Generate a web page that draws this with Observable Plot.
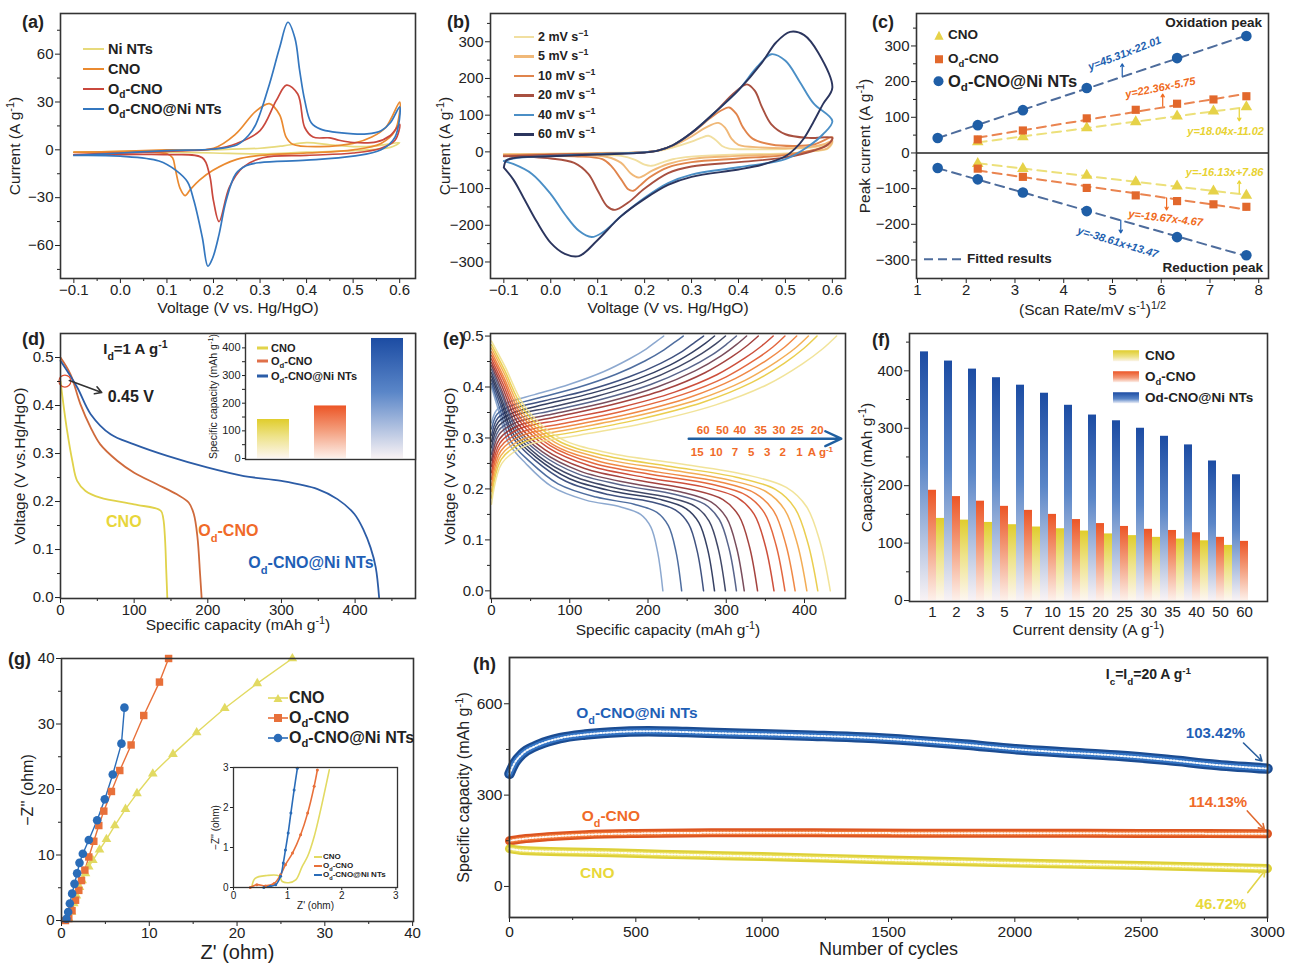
<!DOCTYPE html>
<html>
<head>
<meta charset="utf-8">
<script src="https://cdn.jsdelivr.net/npm/d3@7"></script>
<script src="https://cdn.jsdelivr.net/npm/@observablehq/plot@0.6"></script>
<style>
  html,body{margin:0;padding:0;background:#fff;}
  #fig{position:relative;width:1293px;height:964px;overflow:hidden;background:#fff;font-family:"Liberation Sans",Arial,Helvetica,sans-serif;color:#222;}
  .ov{position:absolute;font-weight:bold;line-height:1;white-space:nowrap;}
  .mid{transform:translateY(-50%);}
  .row{display:flex;align-items:center;}
  .sw{display:inline-block;flex:none;}
  sub,sup{font-size:0.7em;line-height:0;}
  .plbl{position:absolute;font-weight:bold;font-size:18px;line-height:1;}
</style>
</head>
<body>
<div id="fig"></div>
<script>
// ======================= DATA =======================
// (a) CV loops at one scan rate: [potential (V vs Hg/HgO), current (A/g)] in sweep order
const aNames = ["Ni NTs", "CNO", "O_{d}-CNO", "O_{d}-CNO@Ni NTs"];
const aNiNTs = [[-0.1,-1.5],[0.0,-1],[0.1,-0.5],[0.2,0],[0.3,1],[0.35,2.5],[0.4,4.5],[0.45,3.2],[0.5,2],[0.55,2.5],[0.6,4.5],[0.58,1.5],[0.5,-0.5],[0.4,-1.5],[0.3,-2.5],[0.2,-2],[0.1,-1.5],[0.0,-1.5],[-0.1,-1.5]];
const aCNO = [[-0.1,-1.5],[0.0,-1],[0.1,0],[0.2,1],[0.248,10],[0.29,24],[0.32,29],[0.342,22],[0.356,8],[0.37,3.5],[0.43,2],[0.5,4],[0.54,8],[0.57,14],[0.6,30],[0.59,12],[0.56,4],[0.5,0],[0.4,-2],[0.3,-3.5],[0.25,-6],[0.198,-13],[0.17,-19],[0.15,-25],[0.139,-28.7],[0.128,-24],[0.118,-12],[0.112,-5],[0.1,-2.5],[0.0,-1.5],[-0.1,-1.5]];
const aOdCNO = [[-0.1,-3],[0.0,-2],[0.1,-1],[0.2,0.5],[0.25,4],[0.3,12],[0.335,31],[0.357,40.6],[0.381,35],[0.396,14],[0.414,8],[0.45,7.5],[0.47,6],[0.5,4.6],[0.55,5],[0.58,9],[0.6,16],[0.59,6],[0.56,1],[0.5,-2],[0.4,-3.5],[0.306,-5],[0.263,-11],[0.234,-23.5],[0.212,-45],[0.2,-32],[0.191,-15],[0.176,-5],[0.1,-3],[0.0,-3],[-0.1,-3]];
const aOdCNONi = [[-0.1,-3.5],[0.0,-2],[0.1,-0.5],[0.2,0.5],[0.25,3],[0.275,9],[0.291,16],[0.32,41],[0.342,64],[0.36,80],[0.375,70],[0.385,50],[0.396,31],[0.41,17],[0.43,13],[0.5,10],[0.53,10],[0.56,12],[0.58,17],[0.6,27],[0.59,8],[0.56,0],[0.5,-4],[0.4,-6.5],[0.3,-8],[0.27,-10],[0.248,-15],[0.227,-32],[0.212,-53],[0.198,-68],[0.188,-73],[0.176,-55],[0.158,-32],[0.144,-20],[0.12,-13],[0.083,-7],[0.0,-4],[-0.1,-3.5]];

// (b) CV loops of O_d-CNO@Ni NTs at several scan rates (mV/s)
const bRates = ["2", "5", "10", "20", "40", "60"];
const bCV2 = [[-0.1,-6],[0.0,-5],[0.1,-3],[0.2,-1],[0.23,3],[0.26,12],[0.3,28],[0.32,38],[0.336,44],[0.35,34],[0.365,16],[0.38,9],[0.42,7],[0.5,8],[0.55,11],[0.58,17],[0.6,25],[0.59,9],[0.56,2],[0.5,-4],[0.4,-7],[0.3,-13],[0.26,-20],[0.235,-30],[0.215,-38],[0.2,-35],[0.18,-22],[0.15,-11],[0.1,-8],[0.0,-7],[-0.1,-6]];
const bCV5 = [[-0.1,-7],[0.0,-6],[0.1,-4],[0.2,-1],[0.23,4],[0.26,16],[0.3,42],[0.33,66],[0.357,79],[0.372,65],[0.385,36],[0.4,19],[0.45,12],[0.5,10],[0.55,13],[0.58,20],[0.6,30],[0.59,10],[0.56,3],[0.5,-6],[0.4,-11],[0.3,-19],[0.25,-33],[0.215,-52],[0.195,-67],[0.187,-70],[0.17,-58],[0.15,-30],[0.12,-14],[0.05,-9],[-0.1,-7]];
const bCV10 = [[-0.1,-9],[0.0,-7],[0.1,-5],[0.2,-1],[0.23,4],[0.26,18],[0.3,50],[0.34,92],[0.365,114],[0.38,121],[0.395,104],[0.41,66],[0.43,36],[0.47,20],[0.52,16],[0.56,20],[0.6,40],[0.59,18],[0.56,5],[0.5,-9],[0.4,-18],[0.3,-28],[0.25,-42],[0.21,-70],[0.19,-92],[0.176,-106],[0.165,-102],[0.15,-75],[0.13,-40],[0.11,-20],[0.05,-12],[-0.1,-9]];
const bCV20 = [[-0.1,-12],[0.0,-8],[0.1,-5],[0.2,-1],[0.23,4],[0.26,18],[0.3,52],[0.35,108],[0.39,160],[0.418,184],[0.435,166],[0.45,122],[0.47,75],[0.5,48],[0.55,38],[0.6,38],[0.59,20],[0.56,3],[0.5,-15],[0.4,-28],[0.3,-40],[0.25,-58],[0.2,-100],[0.165,-138],[0.137,-158],[0.12,-148],[0.1,-105],[0.08,-60],[0.05,-30],[0.0,-18],[-0.1,-12]];
const bCV40 = [[-0.1,-25],[-0.08,-18],[0.0,-11],[0.1,-6],[0.2,-1],[0.23,4],[0.26,18],[0.3,52],[0.35,108],[0.4,168],[0.44,232],[0.47,266],[0.5,248],[0.53,192],[0.56,132],[0.6,84],[0.58,48],[0.55,16],[0.5,-20],[0.4,-42],[0.3,-62],[0.25,-85],[0.2,-125],[0.15,-175],[0.11,-220],[0.087,-232],[0.06,-215],[0.03,-170],[0.0,-115],[-0.04,-60],[-0.08,-33],[-0.1,-25]];
const bCV60 = [[-0.1,-43],[-0.095,-24],[-0.08,-17],[0.0,-12],[0.1,-7],[0.2,-2],[0.23,4],[0.26,18],[0.3,52],[0.35,108],[0.4,168],[0.45,243],[0.48,298],[0.51,327],[0.54,318],[0.57,270],[0.6,175],[0.58,130],[0.56,82],[0.54,38],[0.52,8],[0.5,-12],[0.45,-35],[0.4,-48],[0.3,-68],[0.25,-90],[0.2,-128],[0.15,-175],[0.1,-240],[0.06,-284],[0.03,-278],[0.0,-248],[-0.03,-190],[-0.06,-120],[-0.08,-75],[-0.1,-43]];

// (c) peak currents vs sqrt(scan rate)
const cSqrtRate = [1.414, 2.236, 3.162, 4.472, 5.477, 6.325, 7.071, 7.746];
const cOxCNO  = [null, 31, 45, 70, 87, 103, 117, 129];
const cRedCNO = [null, -30, -44, -63, -81, -93, -107, -119];
const cOxOd   = [null, 38, 63, 97, 121, 138, 150, 159];
const cRedOd  = [null, -44, -67, -98, -119, -135, -144, -151];
const cOxNi   = [42, 78, 120, 182, null, 266, null, 328];
const cRedNi  = [-42, -74, -111, -163, null, -236, null, -287];
const cFitText = ["y=18.04x-11.02", "y=-16.13x+7.86", "y=22.36x-5.75", "y=-19.67x-4.67", "y=45.31x-22.01", "y=-38.61x+13.47"];

// (d) discharge curves at 1 A/g: [capacity mAh/g, voltage V]
const dCNO = [[0,0.45],[4.5,0.396],[9,0.347],[16,0.285],[22.6,0.243],[34,0.222],[54,0.208],[100,0.194],[136,0.181],[139.5,0.165],[142,0.12],[143.5,0.06],[145,0]];
const dOdCNO = [[0,0.5],[13.6,0.465],[27,0.403],[41,0.354],[54,0.319],[77,0.285],[100,0.26],[131,0.236],[158,0.215],[174,0.198],[181,0.174],[186,0.125],[189.5,0.049],[191.6,0]];
const dOdCNONi = [[0,0.493],[22.6,0.438],[41,0.382],[68,0.34],[100,0.319],[145,0.295],[199,0.271],[249,0.253],[300,0.243],[349,0.226],[376,0.205],[399,0.174],[412,0.139],[421,0.104],[428,0.063],[432.6,0]];
const dBarNames = ["CNO", "O_{d}-CNO", "O_{d}-CNO@Ni NTs"];
const dBarCap = [141, 190, 434];

// (e) GCD curves of O_d-CNO@Ni NTs at 14 current densities (A/g)
const eRates = [60, 50, 40, 35, 30, 25, 20, 15, 10, 7, 5, 3, 2, 1];
const eDisCap = [219, 243, 271, 285, 299, 313, 323, 340, 361, 375, 388, 403, 417, 433];
const eChgCap = [220, 245, 271, 285, 299, 313, 326, 341, 360, 375, 390, 405, 416, 441];
const eDisFrac = [0, 0.04, 0.1, 0.2, 0.35, 0.55, 0.75, 0.87, 0.93, 0.97, 1];
const eDisV = [
 [0.400,0.355,0.290,0.250,0.205,0.178,0.165,0.150,0.125,0.075,0],
 [0.407,0.362,0.295,0.254,0.210,0.184,0.170,0.154,0.128,0.077,0],
 [0.414,0.368,0.301,0.258,0.215,0.189,0.175,0.158,0.131,0.078,0],
 [0.421,0.375,0.306,0.262,0.220,0.195,0.180,0.162,0.134,0.080,0],
 [0.428,0.381,0.312,0.265,0.225,0.200,0.184,0.166,0.137,0.081,0],
 [0.435,0.388,0.317,0.269,0.230,0.206,0.189,0.170,0.140,0.083,0],
 [0.442,0.394,0.322,0.273,0.235,0.211,0.194,0.174,0.143,0.084,0],
 [0.448,0.401,0.328,0.277,0.240,0.217,0.199,0.179,0.147,0.086,0],
 [0.455,0.407,0.333,0.281,0.245,0.222,0.204,0.183,0.150,0.087,0],
 [0.462,0.414,0.338,0.285,0.250,0.228,0.209,0.187,0.153,0.089,0],
 [0.469,0.420,0.344,0.288,0.255,0.233,0.214,0.191,0.156,0.090,0],
 [0.476,0.427,0.349,0.292,0.260,0.239,0.218,0.195,0.159,0.092,0],
 [0.483,0.433,0.355,0.296,0.265,0.244,0.223,0.199,0.162,0.093,0],
 [0.490,0.440,0.360,0.300,0.270,0.250,0.228,0.203,0.165,0.095,0]
];
const eChgFrac = [0, 0.03, 0.1, 0.25, 0.45, 0.65, 0.8, 0.9, 0.96, 1];
const eChgV = [
 [0.330,0.355,0.370,0.385,0.405,0.430,0.455,0.475,0.490,0.5],
 [0.318,0.347,0.363,0.379,0.399,0.425,0.451,0.473,0.489,0.5],
 [0.305,0.339,0.357,0.373,0.393,0.420,0.447,0.470,0.488,0.5],
 [0.293,0.331,0.350,0.367,0.388,0.415,0.443,0.468,0.486,0.5],
 [0.281,0.323,0.344,0.360,0.382,0.410,0.440,0.466,0.485,0.5],
 [0.268,0.315,0.337,0.354,0.376,0.405,0.436,0.463,0.484,0.5],
 [0.256,0.307,0.331,0.348,0.370,0.400,0.432,0.461,0.483,0.5],
 [0.244,0.298,0.324,0.342,0.365,0.395,0.428,0.459,0.482,0.5],
 [0.232,0.290,0.318,0.336,0.359,0.390,0.424,0.457,0.481,0.5],
 [0.219,0.282,0.311,0.329,0.353,0.385,0.420,0.454,0.479,0.5],
 [0.207,0.274,0.305,0.323,0.347,0.380,0.417,0.452,0.478,0.5],
 [0.195,0.266,0.298,0.317,0.342,0.375,0.413,0.450,0.477,0.5],
 [0.182,0.258,0.292,0.311,0.336,0.370,0.409,0.447,0.476,0.5],
 [0.170,0.250,0.285,0.305,0.330,0.365,0.405,0.445,0.475,0.5]
];
const eTopLabels = ["60", "50", "40", "35", "30", "25", "20"];
const eBottomLabels = ["15", "10", "7", "5", "3", "2", "1", "A g^{-1}"];

// (f) rate capability
const fDensity = ["1","2","3","5","7","10","15","20","25","30","35","40","50","60"];
const fOdCNONi = [433, 417, 403, 388, 375, 361, 340, 323, 313, 300, 286, 271, 243, 219];
const fOdCNO   = [192, 181, 173, 164, 157, 150, 141, 134, 129, 124, 122, 118, 110, 103];
const fCNO     = [143, 140, 136, 132, 128, 125, 121, 116, 113, 110, 107, 104, 96, null];

// (g) Nyquist plots: [Z' ohm, -Z'' ohm]
const gCNO = [[0.83,0.26],[1.14,1.3],[1.4,2.6],[1.7,3.8],[2.05,5.1],[2.35,6.1],[2.73,7.2],[3.1,8.2],[3.57,9.2],[4.33,10.8],[5.12,12.4],[6.07,14.5],[7.29,17.0],[8.6,19.4],[10.4,22.4],[12.7,25.4],[15.4,28.7],[18.6,32.4],[22.3,36.2],[26.3,40.0]];
const gOdCNO = [[0.45,0],[0.83,0.3],[1.2,1.5],[1.6,3.1],[1.97,4.6],[2.28,6.1],[2.66,7.7],[3.11,9.7],[3.68,12.1],[4.25,14.5],[4.82,16.7],[5.69,19.7],[6.64,22.9],[7.93,26.8],[9.37,31.3],[11.16,36.4],[12.2,40.0]];
const gOdCNONi = [[0.57,0.26],[0.76,1.3],[0.95,2.6],[1.21,4.1],[1.48,5.6],[1.78,7.2],[2.05,8.8],[2.43,10.2],[3.11,12.3],[4.06,15.3],[4.93,18.5],[5.84,22.3],[6.83,27.0],[7.17,32.5]];
const giCNO = [[0.34,0.03],[0.4,0.23],[0.62,0.3],[0.84,0.29],[0.9,0.15],[1.02,0.12],[1.15,0.19],[1.27,0.53],[1.37,0.78],[1.49,1.27],[1.61,1.94],[1.77,2.94]];
const giOdCNO = [[0.31,0],[0.43,0.07],[0.59,0.04],[0.75,0.1],[0.87,0.32],[0.96,0.57],[1.09,0.86],[1.24,1.32],[1.37,1.86],[1.49,2.53],[1.55,2.94]];
const giOdCNONi = [[0.56,0],[0.68,0.03],[0.78,0.07],[0.87,0.28],[0.92,0.61],[0.96,0.94],[1.01,1.36],[1.06,1.86],[1.12,2.44],[1.18,2.98]];

// (h) cycling stability at 20 A/g: [cycle, capacity mAh/g]
const hOdCNONi = [[0,370],[20,405],[50,435],[100,460],[150,476],[200,487],[300,499],[400,506],[550,510],[700,507],[850,503],[1000,500],[1200,495],[1400,489],[1600,479],[1800,466],[2000,451],[2200,440],[2400,430],[2600,416],[2800,399],[3000,387]];
const hOdCNO = [[0,150],[50,156],[150,163],[300,170],[500,174],[800,176],[1200,176],[1600,175],[2000,175],[2500,174],[3000,173]];
const hCNO = [[0,124],[50,118],[200,114],[400,111],[600,106],[800,102],[1000,98],[1500,87],[2000,77],[2500,69],[3000,59]];
const hRetention = ["103.42%", "114.13%", "46.72%"];

// ======================= HELPERS =======================
const FONT = '"Liberation Sans", Arial, Helvetica, sans-serif';
const INK = "#222";
const fig = document.getElementById("fig");
const style = (fs = 15) => ({fontFamily: FONT, fontSize: fs + "px", color: INK, background: "transparent", overflow: "visible"});
const X = d => d[0], Y = d => d[1];
const f1 = d3.format(".1f");
const fInt = d3.format("d");

document.body.insertAdjacentHTML("afterbegin", `<svg width="0" height="0" style="position:absolute"><defs>
<linearGradient id="gBlue" x1="0" y1="0" x2="0" y2="1"><stop offset="0" stop-color="#1c4ca3"/><stop offset="0.45" stop-color="#5a86c8"/><stop offset="1" stop-color="#f8f2f4"/></linearGradient>
<linearGradient id="gOrange" x1="0" y1="0" x2="0" y2="1"><stop offset="0" stop-color="#ec5526"/><stop offset="0.45" stop-color="#f39a78"/><stop offset="1" stop-color="#fdf0ea"/></linearGradient>
<linearGradient id="gYellow" x1="0" y1="0" x2="0" y2="1"><stop offset="0" stop-color="#e0cd2c"/><stop offset="0.45" stop-color="#eee38a"/><stop offset="1" stop-color="#fdf6f0"/></linearGradient>
</defs></svg>`);

function richify(root) {
  const NS = "http://www.w3.org/2000/svg";
  const fix = t => {
    const s = t.textContent;
    if (!/[_^]\{/.test(s)) return;
    t.textContent = "";
    const re = /([_^])\{([^}]*)\}/g; let last = 0, m;
    while ((m = re.exec(s))) {
      if (m.index > last) t.appendChild(document.createTextNode(s.slice(last, m.index)));
      const ts = document.createElementNS(NS, "tspan");
      ts.setAttribute("baseline-shift", m[1] === "_" ? "sub" : "super");
      ts.setAttribute("font-size", "0.7em");
      ts.textContent = m[2];
      t.appendChild(ts);
      last = re.lastIndex;
    }
    if (last < s.length) t.appendChild(document.createTextNode(s.slice(last)));
  };
  root.querySelectorAll("text").forEach(t => {
    const kids = t.querySelectorAll("tspan");
    if (kids.length) kids.forEach(fix); else fix(t);
  });
}
function place(el, left, top) {
  el.style.position = "absolute";
  el.style.left = left + "px";
  el.style.top = top + "px";
  richify(el);
  fig.appendChild(el);
}
function axes(o) {
  const m = [];
  if (o.xMajor) m.push(Plot.axisX({ticks: o.xMajor, tickSize: o.xSize ?? 5, tickPadding: o.xPad ?? 1, tickFormat: o.xFmt, label: null}));
  if (o.xMinor) m.push(Plot.axisX({ticks: o.xMinor, tickSize: 3, tickFormat: () => "", label: null}));
  if (o.yMajor) m.push(Plot.axisY({ticks: o.yMajor, tickSize: o.ySize ?? 5, tickPadding: o.yPad ?? 2, tickFormat: o.yFmt, label: null}));
  if (o.yMinor) m.push(Plot.axisY({ticks: o.yMinor, tickSize: 3, tickFormat: () => "", label: null}));
  return m;
}
const xLabel = (t, dy, fs = 15.5) => Plot.text([t], {text: d => d, frameAnchor: "bottom", dy, fontSize: fs, textAnchor: "middle", lineAnchor: "middle"});
const yLabel = (t, dx, fs = 15.5) => Plot.text([t], {text: d => d, frameAnchor: "left", dx, rotate: -90, fontSize: fs, textAnchor: "middle", lineAnchor: "middle"});
const frame = (w = 1.6) => Plot.frame({stroke: "#333", strokeWidth: w});

// ======================= (a) =======================
{
  const cols = ["#e7da7c", "#ea8a30", "#c9483d", "#3477bf"];
  const series = [aNiNTs, aCNO, aOdCNO, aOdCNONi];
  place(Plot.plot({
    width: 430, height: 320, marginLeft: 60, marginRight: 15, marginTop: 13, marginBottom: 42,
    style: style(15),
    x: {domain: [-0.1287, 0.634]}, y: {domain: [-80.7, 85.5]},
    marks: [
      ...series.map((s, i) => Plot.line(s, {x: X, y: Y, stroke: cols[i], strokeWidth: 1.7, curve: "catmull-rom"})),
      ...axes({xMajor: [-0.1,0,0.1,0.2,0.3,0.4,0.5,0.6], xFmt: f1, xMinor: [-0.05,0.05,0.15,0.25,0.35,0.45,0.55],
               yMajor: [-60,-30,0,30,60], yMinor: [-75,-45,-15,15,45,75]}),
      xLabel("Voltage (V vs. Hg/HgO)", 30),
      yLabel("Current (A g^{-1})", -45),
      frame()
    ]
  }), 0, 0);
}

// ======================= (b) =======================
const bCols = ["#f1dfa0", "#f0b878", "#e0844c", "#a85040", "#4b8fc6", "#2b355e"];
{
  const series = [bCV2, bCV5, bCV10, bCV20, bCV40, bCV60];
  place(Plot.plot({
    width: 420, height: 320, marginLeft: 60, marginRight: 5, marginTop: 13, marginBottom: 42,
    style: style(15),
    x: {domain: [-0.1284, 0.628]}, y: {domain: [-345, 377]},
    marks: [
      ...series.map((s, i) => Plot.line(s, {x: X, y: Y, stroke: bCols[i], strokeWidth: 1.9, curve: "catmull-rom"})),
      ...axes({xMajor: [-0.1,0,0.1,0.2,0.3,0.4,0.5,0.6], xFmt: f1, xMinor: [-0.05,0.05,0.15,0.25,0.35,0.45,0.55],
               yMajor: [-300,-200,-100,0,100,200,300], yMinor: [-250,-150,-50,50,150,250,350]}),
      xLabel("Voltage (V vs. Hg/HgO)", 30),
      yLabel("Current (A g^{-1})", -45),
      frame()
    ]
  }), 430, 0);
}

// ======================= (c) =======================
{
  const pts = arr => cSqrtRate.map((x, i) => ({x, y: arr[i]})).filter(d => d.y != null);
  const S = [
    {ox: cOxCNO, red: cRedCNO, symbol: "triangle", fill: "#e6d248", dash: "#ece07a", r: 4.3},
    {ox: cOxOd, red: cRedOd, symbol: "square", fill: "#e2682c", dash: "#ea8450", r: 4.6},
    {ox: cOxNi, red: cRedNi, symbol: "circle", fill: "#1f5ea6", dash: "#4d6c9c", r: 5.3}
  ];
  const fitMarks = [], dotMarks = [];
  for (const s of S) for (const arr of [s.ox, s.red]) {
    fitMarks.push(Plot.linearRegressionY(pts(arr), {x: "x", y: "y", stroke: s.dash, strokeWidth: 2, strokeDasharray: "9,6", ci: 0}));
    dotMarks.push(Plot.dot(pts(arr), {x: "x", y: "y", symbol: s.symbol, fill: s.fill, r: s.r}));
  }
  const Y_ = "#e8d232", O_ = "#f06a20", B_ = "#1e5fb0";
  const eq = [
    {t: cFitText[4], x: 5.25, y: 279, r: -21, c: B_},
    {t: cFitText[2], x: 5.98, y: 183, r: -11, c: O_},
    {t: cFitText[0], x: 7.32, y: 59, r: 0, c: Y_},
    {t: cFitText[1], x: 7.3, y: -55, r: 0, c: Y_},
    {t: cFitText[3], x: 6.09, y: -183, r: 7, c: O_},
    {t: cFitText[5], x: 5.11, y: -251, r: 17, c: B_}
  ];
  const arrows = [
    {x1: 5.2, y1: 216, x2: 5.2, y2: 250, c: B_},
    {x1: 6.03, y1: 131, x2: 6.03, y2: 165, c: O_},
    {x1: 7.6, y1: 124, x2: 7.6, y2: 90, c: Y_},
    {x1: 7.6, y1: -112, x2: 7.6, y2: -78, c: Y_},
    {x1: 6.11, y1: -126, x2: 6.11, y2: -160, c: O_},
    {x1: 5.17, y1: -188, x2: 5.17, y2: -224, c: B_}
  ];
  place(Plot.plot({
    width: 443, height: 320, marginLeft: 66, marginRight: 25, marginTop: 13, marginBottom: 42,
    style: style(15),
    x: {domain: [0.98, 8.2]}, y: {domain: [-352, 391]},
    marks: [
      Plot.ruleY([0], {stroke: "#222", strokeWidth: 1.6}),
      ...fitMarks, ...dotMarks,
      Plot.arrow(arrows, {x1: "x1", y1: "y1", x2: "x2", y2: "y2", stroke: "c", strokeWidth: 1.2, headLength: 4}),
      Plot.text(eq, {x: "x", y: "y", text: "t", rotate: "r", fill: "c", fontSize: 11, fontWeight: "bold", fontStyle: "italic"}),
      ...axes({xMajor: [1,2,3,4,5,6,7,8], xMinor: [1.5,2.5,3.5,4.5,5.5,6.5,7.5],
               yMajor: [-300,-200,-100,0,100,200,300], yMinor: [-250,-150,-50,50,150,250,350]}),
      xLabel("(Scan Rate/mV s^{-1})^{1/2}", 32),
      yLabel("Peak current (A g^{-1})", -51),
      frame()
    ]
  }), 850, 0);
}

// ======================= (d) =======================
{
  place(Plot.plot({
    width: 430, height: 320, marginLeft: 60, marginRight: 15, marginTop: 13, marginBottom: 42,
    style: style(15),
    x: {domain: [0, 482]}, y: {domain: [-0.002, 0.55]},
    marks: [
      Plot.line(dCNO, {x: X, y: Y, stroke: "#e0d24a", strokeWidth: 1.8, curve: "catmull-rom"}),
      Plot.line(dOdCNO, {x: X, y: Y, stroke: "#cf6a3c", strokeWidth: 1.8, curve: "catmull-rom"}),
      Plot.line(dOdCNONi, {x: X, y: Y, stroke: "#2c5ca6", strokeWidth: 1.8, curve: "catmull-rom"}),
      Plot.dot([[6, 0.451]], {x: X, y: Y, r: 6, stroke: "#e05030", strokeWidth: 1.2, fill: "none"}),
      Plot.arrow([[12, 0.452, 56, 0.427]], {x1: d => d[0], y1: d => d[1], x2: d => d[2], y2: d => d[3], stroke: "#333", strokeWidth: 1.6, headLength: 7}),
      Plot.text(["0.45 V"], {x: 64, y: 0.419, text: d => d, textAnchor: "start", fontWeight: "bold", fontSize: 16}),
      Plot.text(["I_{d}=1 A g^{-1}"], {x: 58, y: 0.517, text: d => d, textAnchor: "start", fontWeight: "bold", fontSize: 15}),
      Plot.text(["CNO"], {x: 86, y: 0.158, text: d => d, fill: "#e8d63a", fontWeight: "bold", fontSize: 16}),
      Plot.text(["O_{d}-CNO"], {x: 187, y: 0.139, text: d => d, textAnchor: "start", fill: "#f06a28", fontWeight: "bold", fontSize: 16}),
      Plot.text(["O_{d}-CNO@Ni NTs"], {x: 255, y: 0.0726, text: d => d, textAnchor: "start", fill: "#1f5fb6", fontWeight: "bold", fontSize: 16}),
      ...axes({xMajor: [0,100,200,300,400], xMinor: [50,150,250,350,450],
               yMajor: [0,0.1,0.2,0.3,0.4,0.5], yFmt: f1, yMinor: [0.05,0.15,0.25,0.35,0.45]}),
      xLabel("Specific capacity (mAh g^{-1})", 27),
      yLabel("Voltage (V vs.Hg/HgO)", -40),
      frame()
    ]
  }), 0, 320);

  // inset bar chart
  const grads = ["url(#gYellow)", "url(#gOrange)", "url(#gBlue)"];
  place(Plot.plot({
    width: 222, height: 130, marginLeft: 50, marginRight: 2, marginTop: 2, marginBottom: 2,
    style: style(11),
    x: {type: "band", domain: dBarNames, paddingInner: 0.44, paddingOuter: 0.21, axis: null},
    y: {domain: [-3.6, 452]},
    marks: [
      Plot.frame({fill: "white"}),
      ...dBarNames.map((n, i) => Plot.barY([{n, v: dBarCap[i]}], {x: "n", y: "v", fill: grads[i]})),
      ...axes({yMajor: [0,100,200,300,400], ySize: 3, yPad: 2, yMinor: [50,150,250,350]}),
      yLabel("Specific capacity (mAh g^{-1})", -32, 10.5),
      frame(1.4)
    ]
  }), 195, 331);
}

// ======================= (e) =======================
{
  const eCols = ["#809fca","#3b5d95","#2b3f72","#1f2b52","#2c3456","#46537e","#6a3a4a","#9a2f2a","#c83c26","#e0562a","#ee7c32","#f2a442","#e8c93c","#efe08e"];
  const lines = [];
  eRates.forEach((r, i) => {
    lines.push(Plot.line(eDisFrac.map((f, j) => [f * eDisCap[i], eDisV[i][j]]), {x: X, y: Y, stroke: eCols[i], strokeWidth: 1.5, strokeOpacity: 0.9, curve: "catmull-rom"}));
    lines.push(Plot.line(eChgFrac.map((f, j) => [f * eChgCap[i], eChgV[i][j]]), {x: X, y: Y, stroke: eCols[i], strokeWidth: 1.5, strokeOpacity: 0.9, curve: "catmull-rom"}));
  });
  const topX = [270.5, 295.2, 317.4, 343.8, 367.3, 390.6, 416.2];
  const botX = [262.8, 287.1, 311, 331.8, 352.3, 372.3, 393.6, 420.4];
  place(Plot.plot({
    width: 420, height: 320, marginLeft: 60, marginRight: 5, marginTop: 13, marginBottom: 42,
    style: style(15),
    x: {domain: [-1.3, 452.4]}, y: {domain: [-0.015, 0.505]},
    marks: [
      ...lines,
      Plot.arrow([[252, 0.2986, 447, 0.2986]], {x1: d => d[0], y1: d => d[1], x2: d => d[2], y2: d => d[3], stroke: "#1f5fa0", strokeWidth: 2.4, headLength: 11, headAngle: 50}),
      Plot.text(eTopLabels, {x: (d, i) => topX[i], y: 0.316, text: d => d, fill: "#f06a28", fontWeight: "bold", fontSize: 11.5}),
      Plot.text(eBottomLabels, {x: (d, i) => botX[i], y: 0.272, text: d => d, fill: "#f06a28", fontWeight: "bold", fontSize: 11.5}),
      ...axes({xMajor: [0,100,200,300,400], xMinor: [50,150,250,350],
               yMajor: [0,0.1,0.2,0.3,0.4,0.5], yFmt: f1, yMinor: [0.05,0.15,0.25,0.35,0.45]}),
      xLabel("Specific capacity (mAh g^{-1})", 32),
      yLabel("Voltage (V vs.Hg/HgO)", -40),
      frame()
    ]
  }), 430, 320);
}

// ======================= (f) =======================
{
  const keys = fDensity.flatMap(d => [d + "|a", d + "|b", d + "|c"]);
  const rows = (arr, s) => fDensity.map((d, i) => ({k: d + "|" + s, v: arr[i]})).filter(d => d.v != null);
  place(Plot.plot({
    width: 443, height: 320, marginLeft: 59, marginRight: 26, marginTop: 13, marginBottom: 39,
    style: style(15),
    x: {type: "band", domain: keys, paddingInner: 0.06, paddingOuter: 0.15},
    y: {domain: [-1.7, 465]},
    marks: [
      Plot.barY(rows(fOdCNONi, "a"), {x: "k", y: "v", fill: "url(#gBlue)"}),
      Plot.barY(rows(fOdCNO, "b"), {x: "k", y: "v", fill: "url(#gOrange)"}),
      Plot.barY(rows(fCNO, "c"), {x: "k", y: "v", fill: "url(#gYellow)"}),
      Plot.axisX({ticks: fDensity.map(d => d + "|b"), tickSize: 0, tickPadding: 5, tickFormat: k => k.split("|")[0], label: null}),
      ...axes({yMajor: [0,100,200,300,400], yMinor: [50,150,250,350,450]}),
      xLabel("Current density (A g^{-1})", 29),
      yLabel("Capacity (mAh g^{-1})", -42),
      frame()
    ]
  }), 850, 320);
}

// ======================= (g) =======================
const gCols = ["#e2da62", "#e8703a", "#2a6cb8"];
{
  place(Plot.plot({
    width: 430, height: 324, marginLeft: 61, marginRight: 17, marginTop: 18, marginBottom: 43,
    style: style(15),
    x: {domain: [0, 40.1]}, y: {domain: [-0.15, 40]},
    marks: [
      Plot.line(gCNO, {x: X, y: Y, stroke: gCols[0], strokeWidth: 1.4, clip: true}),
      Plot.line(gOdCNO, {x: X, y: Y, stroke: gCols[1], strokeWidth: 1.4, clip: true}),
      Plot.line(gOdCNONi, {x: X, y: Y, stroke: gCols[2], strokeWidth: 1.4, clip: true}),
      Plot.dot(gCNO, {x: X, y: Y, symbol: "triangle", fill: gCols[0], r: 3.6}),
      Plot.dot(gOdCNO, {x: X, y: Y, symbol: "square", fill: gCols[1], r: 4.2}),
      Plot.dot(gOdCNONi, {x: X, y: Y, symbol: "circle", fill: gCols[2], r: 4.3}),
      ...axes({xMajor: [0,10,20,30,40], xMinor: [5,15,25,35], yMajor: [0,10,20,30,40], yMinor: [5,15,25,35]}),
      xLabel("Z' (ohm)", 31, 20),
      yLabel("\u2212Z'' (ohm)", -34, 16),
      frame()
    ]
  }), 0, 640);

  place(Plot.plot({
    width: 210, height: 150, marginLeft: 43, marginRight: 3, marginTop: 2, marginBottom: 28,
    style: style(10),
    x: {domain: [0, 3.03]}, y: {domain: [0, 3]},
    marks: [
      Plot.frame({fill: "white"}),
      Plot.line(giCNO, {x: X, y: Y, stroke: gCols[0], strokeWidth: 1.6, curve: "catmull-rom"}),
      Plot.line(giOdCNO, {x: X, y: Y, stroke: gCols[1], strokeWidth: 1.6, curve: "catmull-rom"}),
      Plot.line(giOdCNONi, {x: X, y: Y, stroke: gCols[2], strokeWidth: 1.6, curve: "catmull-rom"}),
      Plot.dot(giOdCNO, {x: X, y: Y, fill: gCols[1], r: 1.5}),
      Plot.dot(giOdCNONi, {x: X, y: Y, fill: gCols[2], r: 1.5}),
      ...axes({xMajor: [0,1,2,3], xSize: 3, xFmt: fInt, yMajor: [0,1,2,3], ySize: 3, yFmt: fInt}),
      xLabel("Z' (ohm)", 18, 10),
      yLabel("\u2212Z'' (ohm)", -18, 10),
      frame(1.3)
    ]
  }), 190, 765);
}

// ======================= (h) =======================
{
  const S = [
    {d: hOdCNONi, outer: "#1b4c92", inner: "#3474c4", w: 10.5},
    {d: hOdCNO, outer: "#dc5420", inner: "#f07a3a", w: 9},
    {d: hCNO, outer: "#ddd038", inner: "#ece062", w: 9}
  ];
  const bands = S.flatMap(s => [
    Plot.line(s.d, {x: X, y: Y, stroke: s.outer, strokeWidth: s.w, curve: "monotone-x"}),
    Plot.line(s.d, {x: X, y: Y, stroke: s.inner, strokeWidth: s.w - 4.5, curve: "monotone-x"}),
    Plot.line(s.d, {x: X, y: Y, stroke: "white", strokeWidth: 2, strokeDasharray: "1.4,1.9", strokeOpacity: 0.95, curve: "monotone-x"})
  ]);
  const B_ = "#1f5fb6", O_ = "#f06a28", Y_ = "#e8d83a";
  place(Plot.plot({
    width: 863, height: 324, marginLeft: 79, marginRight: 26, marginTop: 17, marginBottom: 47,
    style: style(15.5),
    x: {domain: [0, 3000]}, y: {domain: [-102, 752]},
    marks: [
      ...bands,
      Plot.text(["O_{d}-CNO@Ni NTs"], {x: 264, y: 569, text: d => d, textAnchor: "start", fill: B_, fontWeight: "bold", fontSize: 15.5}),
      Plot.text(["O_{d}-CNO"], {x: 286, y: 232, text: d => d, textAnchor: "start", fill: O_, fontWeight: "bold", fontSize: 15.5}),
      Plot.text(["CNO"], {x: 279, y: 44, text: d => d, textAnchor: "start", fill: Y_, fontWeight: "bold", fontSize: 15.5}),
      Plot.text(["I_{c}=I_{d}=20 A g^{-1}"], {x: 2360, y: 696, text: d => d, textAnchor: "start", fontWeight: "bold", fontSize: 14}),
      Plot.text(hRetention, {x: [2794, 2804, 2816], y: [503, 278, -59], text: d => d, fill: [B_, O_, Y_], fontWeight: "bold", fontSize: 15}),
      Plot.arrow([
        {x1: 2905, y1: 471, x2: 2978, y2: 412, c: "#2a5f9e"},
        {x1: 2920, y1: 248, x2: 2988, y2: 186, c: "#e06a30"},
        {x1: 2922, y1: -20, x2: 2990, y2: 52, c: "#e2d44a"}
      ], {x1: "x1", y1: "y1", x2: "x2", y2: "y2", stroke: "c", strokeWidth: 1.6, headLength: 6}),
      ...axes({xMajor: [0,500,1000,1500,2000,2500,3000], xFmt: fInt, xPad: 3, xMinor: [250,750,1250,1750,2250,2750],
               yMajor: [0,300,600], yFmt: fInt, yMinor: [150,450]}),
      xLabel("Number of cycles", 32, 18),
      yLabel("Specific capacity (mAh g^{-1})", -46, 16),
      frame(1.8)
    ]
  }), 430, 640);
}

// ======================= HTML overlays (panel letters, legends) =======================
const OV = [];
[["(a)",22,13],["(b)",447,13],["(c)",872,13],["(d)",22,330],["(e)",443,330],["(f)",872,331],["(g)",8,650],["(h)",473,655]]
  .forEach(([t, l, tp]) => OV.push(`<div class="plbl" style="left:${l}px;top:${tp}px">${t}</div>`));
const sub = s => "<span>" + s.replace(/_\{([^}]*)\}/g, "<sub>$1</sub>") + "</span>";
// (a) legend
{
  const cols = ["#e7da7c", "#ea8a30", "#c9483d", "#3477bf"];
  OV.push(`<div class="ov" style="left:83px;top:39px;font-size:14.5px">` +
    aNames.map((n, i) => `<div class="row" style="height:20px"><span class="sw" style="width:21px;height:2.5px;margin-right:4px;background:${cols[i]}"></span>${sub(n)}</div>`).join("") + `</div>`);
}
// (b) legend
OV.push(`<div class="ov" style="left:514px;top:27px;font-size:12.5px">` +
  bRates.map((r, i) => `<div class="row" style="height:19.5px"><span class="sw" style="width:20px;height:2.5px;margin-right:4px;background:${bCols[i]}"></span><span>${r} mV s<sup>\u22121</sup></span></div>`).join("") + `</div>`);
// (c) legend + labels
OV.push(`<div class="ov mid row" style="left:934px;top:35px;font-size:13.5px"><svg class="sw" width="10" height="10" style="margin-right:4px"><path d="M5,0.5L9.6,9.5H0.4Z" fill="#e6d248"/></svg><span>CNO</span></div>`);
OV.push(`<div class="ov mid row" style="left:934px;top:59px;font-size:13.5px"><svg class="sw" width="10" height="10" style="margin-right:4px"><rect x="1" y="1" width="8" height="8" fill="#e2682c"/></svg><span>O<sub>d</sub>-CNO</span></div>`);
OV.push(`<div class="ov mid row" style="left:933px;top:81px;font-size:16.5px"><svg class="sw" width="11" height="11" style="margin-right:4px"><circle cx="5.5" cy="5.5" r="5" fill="#1f5ea6"/></svg><span>O<sub>d</sub>-CNO@Ni NTs</span></div>`);
OV.push(`<div class="ov mid" style="right:31px;top:23px;font-size:13.5px">Oxidation peak</div>`);
OV.push(`<div class="ov mid" style="right:30px;top:268px;font-size:13.5px">Reduction peak</div>`);
OV.push(`<div class="ov mid row" style="left:924px;top:259px;font-size:13.5px"><svg class="sw" width="42" height="4" style="margin-right:1px"><line x1="0" y1="2" x2="42" y2="2" stroke="#4d6c9c" stroke-width="2" stroke-dasharray="9,5"/></svg><span>Fitted results</span></div>`);
// (d) inset legend
{
  const cols = ["#e2d44a", "#e0704a", "#2b5da8"];
  [348.3, 361, 375.7].forEach((cy, i) => OV.push(`<div class="ov mid row" style="left:257px;top:${cy}px;font-size:11px"><span class="sw" style="width:11px;height:3px;margin-right:3px;background:${cols[i]}"></span>${sub(dBarNames[i])}</div>`));
}
// (f) legend
{
  const g = ["linear-gradient(#e0cd2c,#eee38a 60%,#fbf4ea)", "linear-gradient(#ec5526,#f39a78 60%,#fdf0ea)", "linear-gradient(#1c4ca3,#5a86c8 60%,#eef0f8)"];
  const names = ["CNO", "O_{d}-CNO", "Od-CNO@Ni NTs"];
  [356, 377, 398].forEach((cy, i) => OV.push(`<div class="ov mid row" style="left:1113px;top:${cy}px;font-size:13.5px"><span class="sw" style="width:26px;height:11px;margin-right:6px;background:${g[i]}"></span>${sub(names[i])}</div>`));
}
// (g) legend
{
  const sym = [`<path d="M10,1L14.5,9H5.5Z" fill="${gCols[0]}"/>`, `<rect x="6" y="1" width="8" height="8" fill="${gCols[1]}"/>`, `<circle cx="10" cy="5" r="4.3" fill="${gCols[2]}"/>`];
  const names = ["CNO", "O_{d}-CNO", "O_{d}-CNO@Ni NTs"];
  [698, 718, 738].forEach((cy, i) => OV.push(`<div class="ov mid row" style="left:268px;top:${cy}px;font-size:16px"><svg class="sw" width="20" height="10" style="margin-right:1px"><line x1="0" y1="5" x2="20" y2="5" stroke="${gCols[i]}" stroke-width="1.6"/>${sym[i]}</svg>${sub(names[i])}</div>`));
  [856.7, 865.6, 874.6].forEach((cy, i) => OV.push(`<div class="ov mid row" style="left:314px;top:${cy}px;font-size:8px"><span class="sw" style="width:8px;height:2px;margin-right:1px;background:${gCols[i]}"></span>${sub(names[i])}</div>`));
}
fig.insertAdjacentHTML("beforeend", OV.join(""));
</script>
</body>
</html>
